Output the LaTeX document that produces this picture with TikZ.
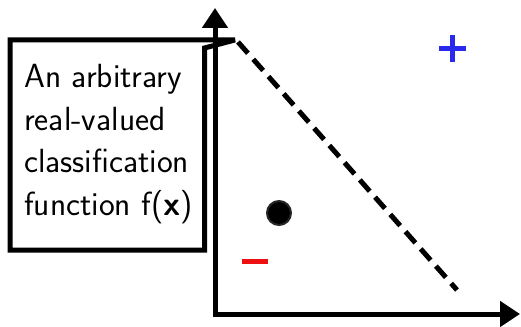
\documentclass[tikz,border=0pt]{standalone}
\usetikzlibrary{arrows.meta, positioning}
\definecolor{PosBlue}{HTML}{2A2AEE}
\definecolor{NegRed}{HTML}{EE1010}

\begin{document}
\begin{tikzpicture}[
    x=1pt, y=-1pt,
    axis/.style={line width=5pt, line join=miter, {Triangle[length=20pt, width=25pt]}-{Triangle[length=20pt, width=25pt]}},
    frame/.style={draw, line width=5pt, line join=miter, miter limit=2},
    boundary/.style={line width=5pt, dash pattern=on 15pt off 8pt},
    sign/.style={line width=5pt},
    desc/.style={align=left, inner sep=0pt, font=\sffamily\fontsize{33.5}{42.5}\selectfont}
  ]
  \useasboundingbox (0,0) rectangle (521,326);

  % Axes
  \coordinate (origin) at (215,314);
  \coordinate (ytip) at (215,8);
  \coordinate (xtip) at (520,314);
  \draw[axis] (xtip) -- (origin) -- (ytip);

  % Callout box with its text
  \node[desc, anchor=base west] (desc) at (24,215) {An arbitrary\\real-valued\\classification\\function f(\textbf{x})};
  \draw[frame] (204.5,48) -- (235,40) -- (10,40) -- (10,250) -- (204.5,250) -- cycle;

  % Decision boundary
  \coordinate (top) at (238,42);
  \coordinate (bottom) at (457,290);
  \draw[boundary] (top) -- (bottom);

  % Sample point and class signs
  \node[circle, fill=black, draw=black!85, line width=2pt, minimum size=24pt, inner sep=0pt] (pt) at (279,213) {};
  \draw[sign, NegRed] (242,261) -- (268,261);
  \draw[sign, PosBlue] (439,48.5) -- (466,48.5) (452.5,35) -- (452.5,62);
\end{tikzpicture}
\end{document}
